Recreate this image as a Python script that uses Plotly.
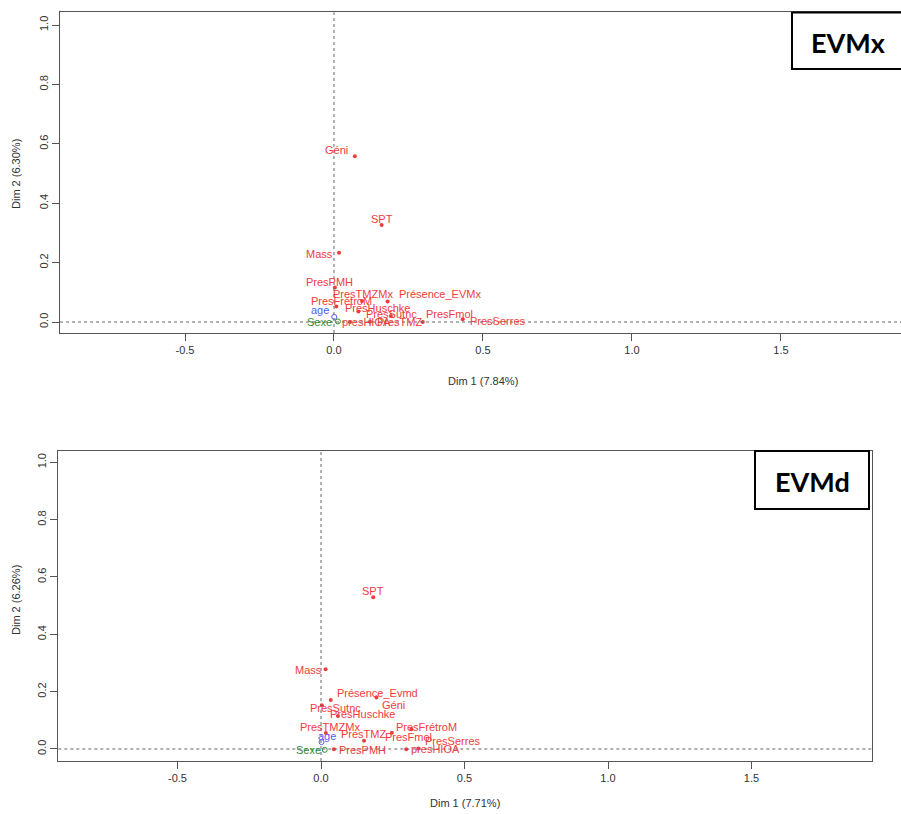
import plotly.graph_objects as go

W, H = 901, 814

# ---------------- data: top panel (EVMx) ----------------
top_names = ["Géni", "SPT", "Mass", "PresPMH", "PresFrétroM", "PresTMZMx",
             "Présence_EVMx", "PresHuschke", "PresSutnc", "presHIOA",
             "PresTMZ", "PresFmol", "PresSerres"]
top_dim1 = [0.070, 0.160, 0.017, 0.003, 0.008, 0.094, 0.180, 0.082, 0.191,
            0.054, 0.121, 0.298, 0.432]
top_dim2 = [0.558, 0.327, 0.233, 0.116, 0.052, 0.071, 0.069, 0.035, 0.020,
            0.000, 0.001, 0.000, 0.009]
top_sup_names = ["age", "Sexe"]
top_sup_dim1 = [0.001, 0.013]
top_sup_dim2 = [0.017, 0.002]
top_xtitle = "Dim 1 (7.84%)"
top_ytitle = "Dim 2 (6.30%)"

# ---------------- data: bottom panel (EVMd) ----------------
bot_names = ["SPT", "Mass", "Présence_Evmd", "Géni", "PresSutnc", "PresHuschke",
             "PresTMZMx", "PresTMZ", "PresFrétroM", "PresFmol", "PresSerres",
             "presHIOA", "PresPMH"]
bot_dim1 = [0.182, 0.016, 0.034, 0.193, 0.003, 0.059, 0.017, 0.150, 0.315,
            0.247, 0.339, 0.297, 0.045]
bot_dim2 = [0.529, 0.278, 0.171, 0.180, 0.153, 0.115, 0.056, 0.029, 0.069,
            0.057, 0.002, -0.001, -0.001]
bot_sup_names = ["age", "Sexe"]
bot_sup_dim1 = [0.002, 0.013]
bot_sup_dim2 = [0.024, -0.003]
bot_xtitle = "Dim 1 (7.71%)"
bot_ytitle = "Dim 2 (6.26%)"

tick_vals_x = [-0.5, 0.0, 0.5, 1.0, 1.5]
tick_text_x = ["-0.5", "0.0", "0.5", "1.0", "1.5"]
tick_vals_y = [0.0, 0.2, 0.4, 0.6, 0.8, 1.0]
tick_text_y = ["0.0", "0.2", "0.4", "0.6", "0.8", "1.0"]

# ---------------- label offsets (pixels, layout only) ----------------
top_lab_dx = [-18, 0, -20, -5, 5, 1, 52, 19, 1, 16, 30, 27, 35]
top_lab_dy = [-6, -6, 1, -6, -6, -7, -8, -4, -2, 0, 0, -8, 2]
top_sup_dx = [-14, -18]
top_sup_dy = [-7, 1]
bot_lab_dx = [0, -17, 47, 17, 14, 25, 4, 0, 15, 17, 35, 29, 29]
bot_lab_dy = [-6, 1, -7, 8, 3, -2, -6, -7, -2, 4, -7, 0, 1]
bot_sup_dx = [5, -16]
bot_sup_dy = [-6, 0]

RED = "#f03c3c"
BLUE = "#5a5aff"
GREEN = "#2e8b2e"
AXC = "#555555"
FONT = "Liberation Sans, Arial, sans-serif"
NARROW = "Liberation Sans Narrow, Arial Narrow, Liberation Sans, Arial, sans-serif"

fig = go.Figure()

panels = [
    dict(xa="x", ya="y", names=top_names, d1=top_dim1, d2=top_dim2,
         sn=top_sup_names, s1=top_sup_dim1, s2=top_sup_dim2,
         dx=top_lab_dx, dy=top_lab_dy, sdx=top_sup_dx, sdy=top_sup_dy),
    dict(xa="x2", ya="y2", names=bot_names, d1=bot_dim1, d2=bot_dim2,
         sn=bot_sup_names, s1=bot_sup_dim1, s2=bot_sup_dim2,
         dx=bot_lab_dx, dy=bot_lab_dy, sdx=bot_sup_dx, sdy=bot_sup_dy),
]

annotations = []
shapes = []
for p in panels:
    fig.add_trace(go.Scatter(x=p["d1"], y=p["d2"], mode="markers",
                             marker=dict(color=RED, size=4),
                             xaxis=p["xa"], yaxis=p["ya"], showlegend=False,
                             hovertext=p["names"]))
    fig.add_trace(go.Scatter(x=p["s1"], y=p["s2"], mode="markers",
                             marker=dict(color=[BLUE, GREEN], size=5,
                                         symbol="circle-open", line=dict(width=1)),
                             xaxis=p["xa"], yaxis=p["ya"], showlegend=False,
                             hovertext=p["sn"]))
    for n, a, b, dx, dy in zip(p["names"], p["d1"], p["d2"], p["dx"], p["dy"]):
        annotations.append(dict(x=a, y=b, xref=p["xa"], yref=p["ya"], text=n,
                                showarrow=False, xanchor="center", yanchor="middle",
                                xshift=dx, yshift=-dy,
                                font=dict(family=FONT, size=11, color=RED)))
    for n, a, b, dx, dy, c in zip(p["sn"], p["s1"], p["s2"], p["sdx"], p["sdy"],
                                  [BLUE, GREEN]):
        annotations.append(dict(x=a, y=b, xref=p["xa"], yref=p["ya"], text=n,
                                showarrow=False, xanchor="center", yanchor="middle",
                                xshift=dx, yshift=-dy,
                                font=dict(family=FONT, size=11, color=c)))
    # dashed reference lines at 0
    shapes.append(dict(type="line", xref=p["xa"], yref=p["ya"] + " domain",
                       x0=0, x1=0, y0=0, y1=1,
                       line=dict(color="#666666", width=1, dash="3px,3px")))
    shapes.append(dict(type="line", xref=p["xa"] + " domain", yref=p["ya"],
                       x0=0, x1=1, y0=0, y1=0,
                       line=dict(color="#666666", width=1, dash="3px,3px")))

def ann_paper(x, y, text, size=11, angle=0, family=NARROW, color="#333"):
    return dict(x=x / W, y=1 - y / H, xref="paper", yref="paper", text=text,
                showarrow=False, textangle=angle, xanchor="center", yanchor="middle",
                font=dict(family=family, size=size, color=color))

# axis titles
annotations += [
    ann_paper(483, 381, top_xtitle),
    ann_paper(16, 174, top_ytitle, angle=-90),
    ann_paper(465, 803, bot_xtitle),
    ann_paper(16, 600, bot_ytitle, angle=-90),
]

# EVM label boxes
shapes += [
    dict(type="rect", xref="paper", yref="paper", x0=792 / W, x1=1.02,
         y0=1 - 69 / H, y1=1 - 12.5 / H, line=dict(color="black", width=2),
         fillcolor="white", layer="above"),
    dict(type="rect", xref="paper", yref="paper", x0=755 / W, x1=869 / W,
         y0=1 - 509 / H, y1=1 - 451 / H, line=dict(color="black", width=2),
         fillcolor="white", layer="above"),
]
annotations += [
    ann_paper(848, 43, "<b>EVMx</b>", size=27, family="Lato, Open Sans, sans-serif",
              color="black"),
    ann_paper(812, 481, "<b>EVMd</b>", size=27, family="Lato, Open Sans, sans-serif",
              color="black"),
]

xaxis_common = dict(tickvals=tick_vals_x, ticktext=tick_text_x, ticks="outside",
                    ticklen=7, tickcolor=AXC, showline=True, linecolor=AXC,
                    linewidth=1, mirror=True, showgrid=False, zeroline=False,
                    tickfont=dict(family=NARROW, size=11, color="#333"))
yaxis_common = dict(tickvals=tick_vals_y, ticktext=tick_text_y, ticks="outside",
                    ticklen=7, tickcolor=AXC, showline=True, linecolor=AXC,
                    linewidth=1, showgrid=False, zeroline=False, tickangle=-90,
                    tickfont=dict(family=NARROW, size=11, color="#333"))

fig.update_layout(
    width=W, height=H, margin=dict(l=0, r=0, t=0, b=0),
    paper_bgcolor="white", plot_bgcolor="white", showlegend=False,
    xaxis=dict(domain=[60 / W, 1.0], range=[-0.9195, 1.903], anchor="y", **xaxis_common),
    yaxis=dict(domain=[1 - 333 / H, 1 - 12.3 / H], range=[-0.037, 1.0428],
               anchor="x", mirror=False, **yaxis_common),
    xaxis2=dict(domain=[58.3 / W, 871.7 / W], range=[-0.9153, 1.9188], anchor="y2",
                **xaxis_common),
    yaxis2=dict(domain=[1 - 761 / H, 1 - 450.5 / H], range=[-0.0419, 1.0412],
                anchor="x2", mirror=True, **yaxis_common),
    annotations=annotations, shapes=shapes,
)

fig.write_html("out.html", config={"displayModeBar": False},
               post_script="document.body.style.margin='0';document.body.style.overflow='hidden';")
